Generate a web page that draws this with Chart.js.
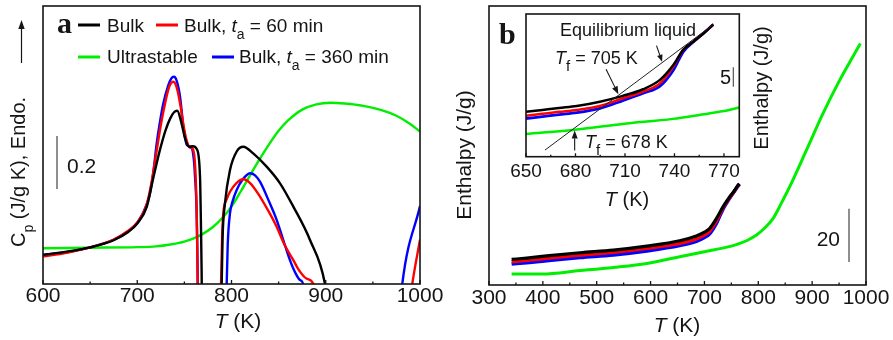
<!DOCTYPE html>
<html><head><meta charset="utf-8">
<script src="https://cdn.jsdelivr.net/npm/chart.js@4.4.1/dist/chart.umd.min.js"></script>
<style>
html,body{margin:0;padding:0;background:#fff;}
#wrap{position:relative;width:893px;height:340px;overflow:hidden;background:#fff;}
canvas{position:absolute;top:0;}
</style></head><body>
<div id="wrap">
<canvas id="ca" width="446" height="340" style="left:0px"></canvas>
<canvas id="cb" width="447" height="340" style="left:446px"></canvas>
<canvas id="ci" width="280" height="215" style="left:500px"></canvas>
</div>
<script>
// ---------- Panel a : Cp vs T ----------
const aTicks = [600, 700, 800, 900, 1000];
const aMinor = [650, 750, 850, 950];
const aBulkT  = [600,625,650,675,690,700,710,717,724,730,735,739,742.5,747,750.7,755,759,763,765.5,766.8,767.6,768.3,769,789,789.6,790.5,793.1,798.4,805.5,812.5,823,837.3,851.5,865.6,883.3,899.2,901,1000];
const aBulkCp = [0.11,0.122,0.138,0.165,0.195,0.228,0.29,0.40,0.505,0.58,0.625,0.648,0.654,0.606,0.55,0.518,0.52,0.51,0.47,0.38,0.22,0.05,-0.2,-0.2,0.0,0.17,0.305,0.43,0.5,0.518,0.493,0.443,0.38,0.292,0.166,0.0,-0.05,-0.3];
const a60T  = [600,625,650,675,690,700,710,715,720,725,730,734,738.3,742,746,749,752.5,756,759,761.5,763,764,764.5,788,788.9,790,791.3,795,798.4,805,812.5,820,830.2,840,847.9,856,865.6,872,879.8,886.8,888,990,991.8,1000];
const a60Cp = [0.104,0.118,0.138,0.168,0.2,0.232,0.3,0.38,0.49,0.6,0.69,0.745,0.763,0.74,0.67,0.6,0.54,0.515,0.51,0.44,0.28,0.05,-0.2,-0.2,0.0,0.17,0.267,0.32,0.348,0.38,0.395,0.38,0.33,0.27,0.216,0.15,0.09,0.05,0.02,0.0,-0.05,-0.05,0.0,0.167];
const a360T  = [600,625,650,675,690,700,710,713.5,717,720.6,724,727.6,733,736,739,742,745.4,748.9,752.5,757.8,760,761.3,763,764.2,764.6,794,794.9,796,798.4,801,805.5,812,819.6,825,830.2,840,847.9,855,862,868,872.7,876,877,980,981.2,1000];
const a360Cp = [0.11,0.12,0.138,0.167,0.198,0.23,0.3,0.342,0.42,0.53,0.61,0.68,0.75,0.775,0.782,0.765,0.707,0.594,0.525,0.513,0.47,0.405,0.27,0.0,-0.2,-0.2,0.0,0.15,0.267,0.31,0.355,0.395,0.418,0.41,0.386,0.31,0.242,0.165,0.09,0.04,0.015,0.0,-0.05,-0.05,0.0,0.294];
const aUltraT  = [600,650,700,720,735,749,760,770,780,790,800,810,820,830,840,850,860,875,890,905,920,940,960,975,990,1000];
const aUltraCp = [0.135,0.137,0.139,0.142,0.149,0.159,0.172,0.19,0.214,0.248,0.292,0.35,0.412,0.472,0.528,0.578,0.617,0.658,0.678,0.684,0.681,0.672,0.655,0.635,0.603,0.575];

// ---------- Panel b : Enthalpy vs T ----------
const bTicks = [300, 400, 500, 600, 700, 800, 900, 1000];
const bMinor = [350, 450, 550, 650, 750, 850, 950];
const bBulkT = [342,370,407,469,531,593,654,685,700,710,722.4,734.7,747,755,762.6,765];
const bBulkH = [9.6,10.1,10.9,12.1,13.1,14.6,16.6,18.4,19.8,21.3,25,29.4,33.1,35.2,37.5,38.0];
const b60H   = [8.7,9.2,10.0,11.2,12.2,13.7,15.6,17.3,18.7,20.2,24.0,29.0,32.8,35.0,37.3,37.8];
const b360H  = [7.9,8.4,9.1,10.3,11.3,12.8,14.8,16.4,17.8,19.3,23.2,28.6,32.6,35.0,37.2,37.8];
const bUltraT = [342,398,469,531,593,654,700,750,765.7,780,796.7,810,827.6,840,858.4,889.4,920.2,951.2,975,989.6];
const bUltraH = [4.1,4.1,5.4,6.6,8.1,10.6,12.5,14.6,15.6,16.8,18.75,21,25,29.6,36.9,50.6,64.4,76.9,85.5,90.6];

// ---------- Inset ----------
const iTicks = [650, 680, 710, 740, 770];
const iMinor = [665, 695, 725, 755];
const iT     = [650,660,670,680.8,694.8,708.7,721,731.2,739.3,745.3,751.4,757.5,763.5];
const iBulkH = [11.5,12.0,12.5,13.0,14.1,15.6,17.3,19.7,23.5,27.4,29.5,31.6,33.9];
const i60H   = [10.5,11.0,11.5,12.0,13.0,15.0,16.7,18.8,23.1,27.4,29.5,31.6,33.9];
const i360H  = [9.8,10.3,10.8,11.3,12.4,14.4,16.3,18.1,22.2,26.9,29.4,31.6,33.9];
const iUltraT = [650,680.8,708.7,739,755,770,779.3];
const iUltraH = [5.8,7.0,8.4,9.7,10.7,11.7,12.6];
const iEqT = [661.5, 763.5];
const iEqH = [1.7, 33.9];

const legendLabels = [
  [['Bulk','']],
  [['Bulk, ',''],['t','i'],['a','s'],[' = 60 min','']],
  [['Bulk, ',''],['t','i'],['a','s'],[' = 360 min','']],
  [['Ultrastable','']]
];

const SANS = '"Liberation Sans", Arial, Helvetica, sans-serif';
const SERIF = '"Liberation Serif", "Times New Roman", serif';
const INK = '#151515';
const C_BLACK = '#000000', C_RED = '#ff0000', C_BLUE = '#0000ff', C_GREEN = '#00ee00';

function pts(xs, ys) { return xs.map((x, i) => ({x: x, y: ys[i]})); }

function drawRich(ctx, parts, x, y, size, align) {
  const fonts = parts.map(p => {
    const st = p[1];
    if (st === 'b') return 'bold ' + size + 'px ' + SERIF;
    const s = st === 's' ? Math.round(size * 0.72) : (st === 'f' ? Math.round(size * 0.85) : size);
    return ((st === 'i') ? 'italic ' : '') + s + 'px ' + SANS;
  });
  let w = 0;
  parts.forEach((p, i) => { ctx.font = fonts[i]; w += ctx.measureText(p[0]).width; });
  let cx = align === 'center' ? x - w / 2 : (align === 'right' ? x - w : x);
  ctx.textAlign = 'left';
  ctx.textBaseline = 'alphabetic';
  parts.forEach((p, i) => {
    ctx.font = fonts[i];
    const dy = (p[1] === 's') ? size * 0.38 : (p[1] === 'f' ? size * 0.38 : 0);
    ctx.fillText(p[0], cx, y + dy);
    cx += ctx.measureText(p[0]).width;
  });
}

function boxTicks(chart, majors, minors, majLen, minLen) {
  const ctx = chart.ctx, ca = chart.chartArea, xs = chart.scales.x;
  ctx.save();
  ctx.strokeStyle = INK;
  ctx.lineWidth = 1.6;
  ctx.strokeRect(ca.left, ca.top, ca.right - ca.left, ca.bottom - ca.top);
  ctx.lineWidth = 1.3;
  ctx.beginPath();
  majors.forEach(v => { const p = xs.getPixelForValue(v); ctx.moveTo(p, ca.bottom); ctx.lineTo(p, ca.bottom - majLen); });
  minors.forEach(v => { const p = xs.getPixelForValue(v); ctx.moveTo(p, ca.bottom); ctx.lineTo(p, ca.bottom - minLen); });
  ctx.stroke();
  ctx.restore();
}

function arrow(ctx, x0, y0, x1, y1, head, half) {
  const ang = Math.atan2(y1 - y0, x1 - x0);
  const bx = x1 - head * Math.cos(ang), by = y1 - head * Math.sin(ang);
  ctx.beginPath(); ctx.moveTo(x0, y0); ctx.lineTo(bx, by); ctx.stroke();
  ctx.beginPath();
  ctx.moveTo(x1, y1);
  ctx.lineTo(bx + half * Math.sin(ang), by - half * Math.cos(ang));
  ctx.lineTo(bx - half * Math.sin(ang), by + half * Math.cos(ang));
  ctx.closePath(); ctx.fill();
}

function xAxis(ticks, min, max, height, size, pad) {
  return {
    type: 'linear', min: min, max: max,
    afterBuildTicks: s => { s.ticks = ticks.map(v => ({value: v})); },
    afterFit: s => { s.height = height; },
    grid: {display: false, drawTicks: false},
    border: {display: false},
    ticks: {font: {family: SANS, size: size}, color: INK, padding: pad, maxRotation: 0, autoSkip: false,
            callback: v => String(v)}
  };
}

function lineDs(label, data, color, width) {
  return {label: label, data: data, borderColor: color, backgroundColor: color, borderWidth: width,
          pointRadius: 0, fill: false, cubicInterpolationMode: 'monotone'};
}

// ---------- Panel a chart ----------
const plugA = {
  id: 'plugA',
  afterDraw(chart) {
    const ctx = chart.ctx;
    boxTicks(chart, aTicks, aMinor, 4, 2.5);
    ctx.save();
    ctx.fillStyle = INK;
    drawRich(ctx, [['a', 'b']], 57, 33, 30, 'left');
    const ds = chart.data.datasets;
    const leg = [
      {d: 0, lx: 78, ly: 25, tx: 107, ty: 32},
      {d: 1, lx: 156, ly: 25, tx: 184, ty: 32},
      {d: 3, lx: 78, ly: 57, tx: 107, ty: 63},
      {d: 2, lx: 212, ly: 57, tx: 239, ty: 63}
    ];
    leg.forEach(e => {
      ctx.strokeStyle = ds[e.d].borderColor; ctx.lineWidth = 3;
      ctx.beginPath(); ctx.moveTo(e.lx, e.ly); ctx.lineTo(e.lx + 22, e.ly); ctx.stroke();
      ctx.fillStyle = INK;
      drawRich(ctx, legendLabels[e.d], e.tx, e.ty, 19, 'left');
    });
    const ys = chart.scales.y;
    const yb = 189, yt = yb - (ys.getPixelForValue(0) - ys.getPixelForValue(0.2));
    ctx.strokeStyle = '#444'; ctx.lineWidth = 1.2;
    ctx.beginPath(); ctx.moveTo(57, yb); ctx.lineTo(57, yt); ctx.stroke();
    drawRich(ctx, [['0.2', '']], 67, 173, 21, 'left');
    drawRich(ctx, [['T', 'i'], [' (K)', '']], 238, 328, 21, 'center');
    ctx.save();
    ctx.translate(25, 247); ctx.rotate(-Math.PI / 2);
    drawRich(ctx, [['C', ''], ['p', 's'], [' (J/g K), Endo.', '']], 0, 0, 20, 'left');
    ctx.restore();
    ctx.strokeStyle = INK; ctx.fillStyle = INK; ctx.lineWidth = 1.2;
    arrow(ctx, 21.5, 63, 21.5, 20, 9, 3.2);
    ctx.restore();
  }
};

new Chart(document.getElementById('ca'), {
  type: 'line',
  data: {datasets: [
    lineDs('Bulk', pts(aBulkT, aBulkCp), C_BLACK, 2.4),
    lineDs('Bulk, ta = 60 min', pts(a60T, a60Cp), C_RED, 2.4),
    lineDs('Bulk, ta = 360 min', pts(a360T, a360Cp), C_BLUE, 2.4),
    lineDs('Ultrastable', pts(aUltraT, aUltraCp), C_GREEN, 2.4)
  ]},
  options: {
    responsive: false, animation: false, devicePixelRatio: 1,
    layout: {padding: {left: 43, right: 26, top: 6, bottom: 0}},
    plugins: {legend: {display: false}, tooltip: {enabled: false}},
    scales: {
      x: xAxis(aTicks, 600, 1000, 56, 21, 0),
      y: {display: false, min: 0, max: 1.049}
    }
  },
  plugins: [plugA]
});

// ---------- Panel b chart ----------
const plugB = {
  id: 'plugB',
  afterDraw(chart) {
    const ctx = chart.ctx;
    boxTicks(chart, bTicks, bMinor, 4, 2.5);
    ctx.save();
    ctx.fillStyle = INK;
    drawRich(ctx, [['b', 'b']], 53, 44, 30, 'left');
    const ys = chart.scales.y;
    const yb = 262, yt = yb - (ys.getPixelForValue(0) - ys.getPixelForValue(20));
    ctx.strokeStyle = '#444'; ctx.lineWidth = 1.2;
    ctx.beginPath(); ctx.moveTo(403, yb); ctx.lineTo(403, yt); ctx.stroke();
    drawRich(ctx, [['20', '']], 394, 246, 21, 'right');
    drawRich(ctx, [['T', 'i'], [' (K)', '']], 231, 332, 21, 'center');
    ctx.save();
    ctx.translate(25, 155); ctx.rotate(-Math.PI / 2);
    drawRich(ctx, [['Enthalpy (J/g)', '']], 0, 0, 21, 'center');
    ctx.restore();
    ctx.restore();
  }
};

new Chart(document.getElementById('cb'), {
  type: 'line',
  data: {datasets: [
    lineDs('Bulk', pts(bBulkT, bBulkH), C_BLACK, 3.2),
    lineDs('Bulk, ta = 60 min', pts(bBulkT, b60H), C_RED, 3.2),
    lineDs('Bulk, ta = 360 min', pts(bBulkT, b360H), C_BLUE, 3.6),
    lineDs('Ultrastable', pts(bUltraT, bUltraH), C_GREEN, 3.0)
  ]},
  options: {
    responsive: false, animation: false, devicePixelRatio: 1,
    layout: {padding: {left: 43, right: 27, top: 6, bottom: 0}},
    plugins: {legend: {display: false}, tooltip: {enabled: false}},
    scales: {
      x: xAxis(bTicks, 300, 1000, 55, 21, 1),
      y: {display: false, min: 0, max: 104.7}
    }
  },
  plugins: [plugB]
});

// ---------- Inset chart ----------
function eqAt(t) { return iEqH[0] + (t - iEqT[0]) * (iEqH[1] - iEqH[0]) / (iEqT[1] - iEqT[0]); }
function interp(xs, ys, t) {
  for (let i = 0; i < xs.length - 1; i++) if (t >= xs[i] && t <= xs[i + 1]) return ys[i] + (t - xs[i]) * (ys[i + 1] - ys[i]) / (xs[i + 1] - xs[i]);
  return ys[ys.length - 1];
}
const plugI = {
  id: 'plugI',
  afterDraw(chart) {
    const ctx = chart.ctx, xs = chart.scales.x, ys = chart.scales.y;
    boxTicks(chart, iTicks, iMinor, 3.5, 2);
    ctx.save();
    ctx.fillStyle = INK;
    drawRich(ctx, [['Equilibrium liquid', '']], 60, 36, 18, 'left');
    drawRich(ctx, [['T', 'i'], ['f', 'f'], [' = 705 K', '']], 55, 64, 18, 'left');
    drawRich(ctx, [['T', 'i'], ['f', 'f'], [' = 678 K', '']], 85, 148, 18, 'left');
    drawRich(ctx, [['5', '']], 220, 84, 20, 'left');
    const yb = 86.7, yt = yb - (ys.getPixelForValue(0) - ys.getPixelForValue(5));
    ctx.strokeStyle = '#444'; ctx.lineWidth = 1.1;
    ctx.beginPath(); ctx.moveTo(233.3, yb); ctx.lineTo(233.3, yt); ctx.stroke();
    drawRich(ctx, [['T', 'i'], [' (K)', '']], 127, 206, 20, 'center');
    ctx.save();
    ctx.translate(268, 88); ctx.rotate(-Math.PI / 2);
    drawRich(ctx, [['Enthalpy (J/g)', '']], 0, 0, 20, 'center');
    ctx.restore();
    ctx.strokeStyle = INK; ctx.fillStyle = INK; ctx.lineWidth = 1.1;
    let tx = xs.getPixelForValue(732.5), ty = ys.getPixelForValue(eqAt(732.5));
    arrow(ctx, tx - 5.6, ty - 17, tx, ty - 1, 7, 2.8);
    tx = xs.getPixelForValue(706); ty = ys.getPixelForValue(eqAt(706));
    arrow(ctx, tx - 12.3, ty - 26, tx, ty - 1, 8, 3);
    tx = xs.getPixelForValue(679.5); ty = ys.getPixelForValue(interp(iUltraT, iUltraH, 679.5));
    arrow(ctx, tx, ty + 21, tx, ty + 1, 8, 3);
    ctx.restore();
  }
};

new Chart(document.getElementById('ci'), {
  type: 'line',
  data: {datasets: [
    lineDs('Equilibrium liquid', pts(iEqT, iEqH), '#222222', 1),
    lineDs('Bulk', pts(iT, iBulkH), C_BLACK, 2.5),
    lineDs('Bulk, ta = 60 min', pts(iT, i60H), C_RED, 2.5),
    lineDs('Bulk, ta = 360 min', pts(iT, i360H), C_BLUE, 2.8),
    lineDs('Ultrastable', pts(iUltraT, iUltraH), C_GREEN, 2.5)
  ]},
  options: {
    responsive: false, animation: false, devicePixelRatio: 1,
    layout: {padding: {left: 26, right: 40.7, top: 14, bottom: 0}},
    plugins: {legend: {display: false}, tooltip: {enabled: false}},
    scales: {
      x: xAxis(iTicks, 650, 779.3, 58.3, 19, 4),
      y: {display: false, min: 0, max: 36.6}
    }
  },
  plugins: [plugI]
});
</script>
</body></html>
